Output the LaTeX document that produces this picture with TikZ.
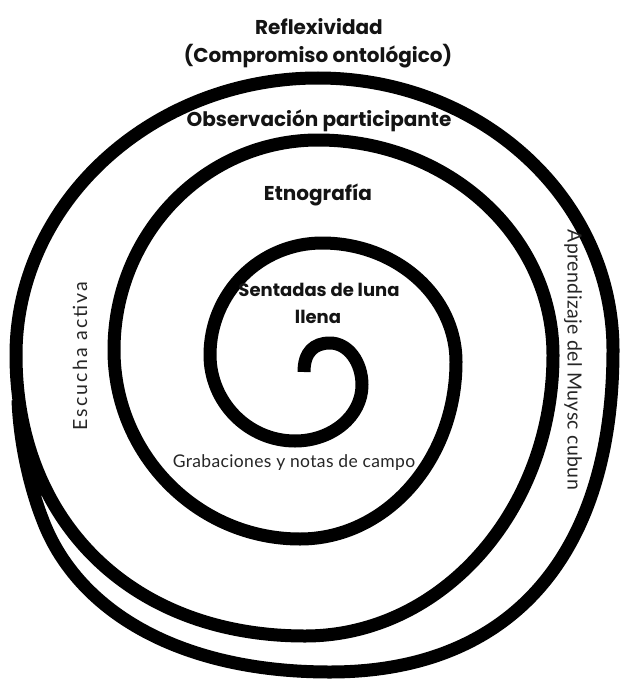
\documentclass[tikz,border=0pt]{standalone}
\usepackage{fontspec}
\newfontfamily\popfont{Poppins}
\newfontfamily\grabfont{Lato}[LetterSpace=2]
\newfontfamily\escufont{Lato}[LetterSpace=11]
\newfontfamily\aprefont{Lato}[LetterSpace=2]
\begin{document}
\begin{tikzpicture}[x=1pt,y=-1pt,
  spiral/.style={line width=13pt, draw=black, line join=round},
  boldlabel/.style={font=\popfont\bfseries\fontsize{20}{24}\selectfont, text=black!92, inner sep=0pt},
  smallbold/.style={font=\popfont\bfseries\fontsize{18}{22}\selectfont, text=black!92, inner sep=0pt},
  lightlabel/.style={text=black!85, inner sep=0pt}]
\useasboundingbox[fill=white] (0,0) rectangle (619,682);

\draw[spiral] (304,372) .. controls (304,352) and (314,343) .. (330,343)
 .. controls (348,343) and (362,362) .. (362,385)
 .. controls (362,416) and (332,441) .. (295,441)
 .. controls (248,441) and (210,402) .. (210,355)
 .. controls (210,293) and (260,243) .. (322,243)
 .. controls (396,243) and (456,296) .. (456,362)
 .. controls (456,460) and (386,539) .. (300,539)
 .. controls (197,539) and (114,454) .. (114,350)
 .. controls (114,234) and (205,140) .. (318,140)
 .. controls (448,140) and (553,236) .. (553,355)
 .. controls (553,510) and (442,636) .. (305,636)
 .. controls (130,636) and (16,520) .. (16,355)
 .. controls (16,202) and (153,78) .. (318,78)
 .. controls (482,78) and (613,200) .. (613,350)
 .. controls (613,550) and (515,672) .. (330,672)
 .. controls (175,672) and (75,608) .. (42,518)
 .. controls (33,495) and (20,450) .. (18,400);

\node[boldlabel] (refl) at (319,27) {Reflexividad};
\node[boldlabel] (comp) at (318,56) {(Compromiso ontológico)};
\node[boldlabel] (obs) at (319,121) {Observación participante};
\node[boldlabel] (etno) at (318,195) {Etnografía};
\node[smallbold] (sent) at (319,290) {Sentadas de luna};
\node[smallbold] (llena) at (318,317) {llena};
\node[lightlabel, font=\grabfont\fontsize{17.5}{20}\selectfont] (grab) at (294,463) {Grabaciones y notas de campo};
\node[lightlabel, font=\escufont\fontsize{19.5}{22}\selectfont, rotate=90] (escu) at (80,356) {Escucha activa};
\node[lightlabel, font=\aprefont\fontsize{19.5}{22}\selectfont, rotate=-90] (apre) at (573,360) {Aprendizaje del Muysc cubun};
\end{tikzpicture}
\end{document}
